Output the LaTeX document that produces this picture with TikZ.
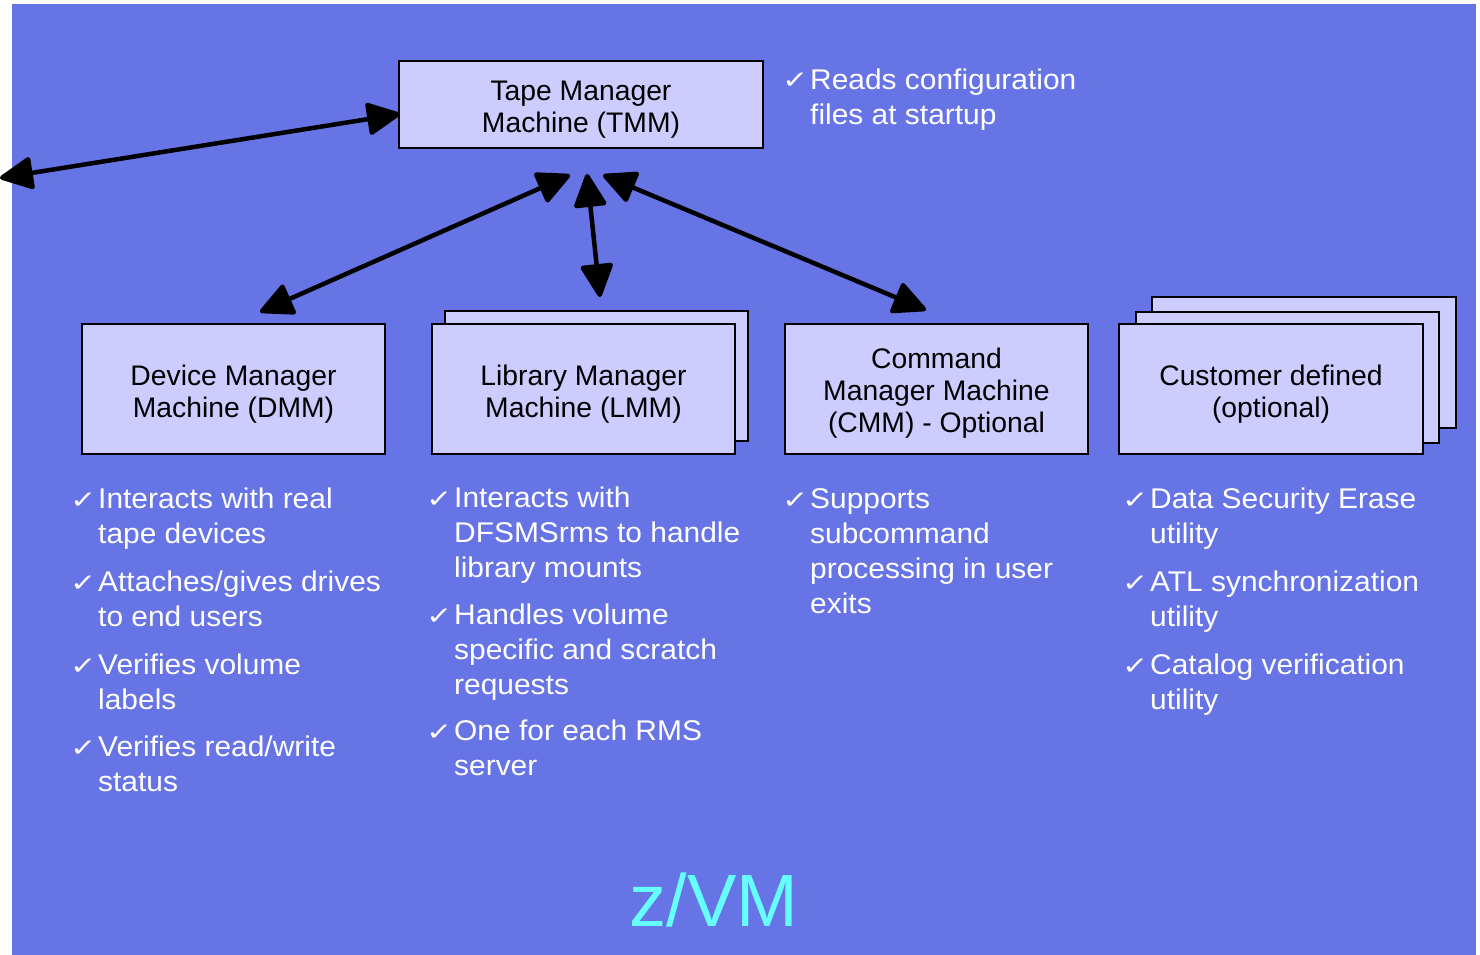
\documentclass[tikz,border=0pt]{standalone}
\usepackage{graphicx}
\usepackage{fontspec}
\setmainfont{Liberation Sans}
\newfontfamily\bodyfont[FakeStretch=1.05]{Liberation Sans}
\newfontfamily\chkfont{DejaVu Sans}
\usetikzlibrary{arrows.meta}
\definecolor{bgblue}{RGB}{102,116,230}
\definecolor{boxfill}{RGB}{204,204,255}
\definecolor{zvmcyan}{RGB}{102,255,255}
\newcommand\mybul[5]{%
  \node[chkst] (#1c) at (#2,#4) {\scalebox{1.05}[0.82]{✓}};
  \node[bultext] (#1) at (#3,#4-24.5) {\strut #5};
}
\begin{document}
\begin{tikzpicture}[x=1pt,y=-1pt,
  boxst/.style={draw=black, line width=2pt, fill=boxfill, inner sep=0pt},
  boxtext/.style={inner sep=0pt, align=center, font=\fontsize{28.3}{32}\selectfont},
  bultext/.style={text=white, align=left, inner sep=0pt, anchor=north west,
    font=\bodyfont\fontsize{28.5}{35}\selectfont},
  chkst/.style={text=white, inner sep=0pt, anchor=base west, font=\chkfont\fontsize{30}{30}\selectfont},
  dbl/.style={line width=4.5pt, {Triangle[length=36pt,width=34pt,round]}-{Triangle[length=36pt,width=34pt,round]}},
]
\useasboundingbox (0,0) rectangle (1480,955);
\fill[bgblue] (12,4) rectangle (1476,955);

% boxes
\node[boxst, minimum width=364pt, minimum height=87pt] (tmm) at (581,104.5) {};
\node[boxst, minimum width=303pt, minimum height=130pt] (dmm) at (233.5,389) {};
\node[boxst, minimum width=303pt, minimum height=130pt] (lmmback) at (596.5,376) {};
\node[boxst, minimum width=303pt, minimum height=130pt] (lmm) at (583.5,389) {};
\node[boxst, minimum width=303pt, minimum height=130pt] (cmm) at (936.5,389) {};
\node[boxst, minimum width=304pt, minimum height=131pt] (custback) at (1304,362.5) {};
\node[boxst, minimum width=303pt, minimum height=131pt] (custmid) at (1287.5,377.5) {};
\node[boxst, minimum width=304pt, minimum height=130pt] (cust) at (1271,389) {};

\node[boxtext] (tmmtxt) at ([yshift=-5pt]tmm.center) {Tape Manager\\Machine (TMM)};
\node[boxtext] (dmmtxt) at ([yshift=-5pt]dmm.center) {Device Manager\\Machine (DMM)};
\node[boxtext] (lmmtxt) at ([yshift=-5pt]lmm.center) {Library Manager\\Machine (LMM)};
\node[boxtext] (cmmtxt) at ([yshift=-4pt]cmm.center) {Command\\Manager Machine\\(CMM) - Optional};
\node[boxtext] (custtxt) at ([yshift=-5pt]cust.center) {Customer defined\\(optional)};

% arrow end points
\coordinate (a0) at (0,178);
\coordinate (a0t) at (400,114);
\coordinate (a1t) at (570,175);
\coordinate (a1b) at (260,312);
\coordinate (a2t) at (587,174);
\coordinate (a2b) at (600,297);
\coordinate (a3t) at (603,175);
\coordinate (a3b) at (926,310);
\draw[dbl] (a0) -- (a0t);
\draw[dbl] (a1t) -- (a1b);
\draw[dbl] (a2t) -- (a2b);
\draw[dbl] (a3t) -- (a3b);

% bullets
\mybul{t1}{782}{810}{89}{Reads configuration\\files at startup}
\mybul{d1}{70}{98}{508}{Interacts with real\\tape devices}
\mybul{d2}{70}{98}{591}{Attaches/gives drives\\to end users}
\mybul{d3}{70}{98}{674}{Verifies volume\\labels}
\mybul{d4}{70}{98}{756}{Verifies read/write\\status}
\mybul{l1}{426}{454}{507}{Interacts with\\DFSMSrms to handle\\library mounts}
\mybul{l2}{426}{454}{624}{Handles volume\\specific and scratch\\requests}
\mybul{l3}{426}{454}{740}{One for each RMS\\server}
\mybul{c1}{782}{810}{508}{Supports\\subcommand\\processing in user\\exits}
\mybul{u1}{1122}{1150}{508}{Data Security Erase\\utility}
\mybul{u2}{1122}{1150}{591}{ATL synchronization\\utility}
\mybul{u3}{1122}{1150}{674}{Catalog verification\\utility}

\node[text=zvmcyan, inner sep=0pt, anchor=base, font=\fontsize{74}{80}\selectfont] (zvm) at (714,926) {z/VM};
\end{tikzpicture}
\end{document}
